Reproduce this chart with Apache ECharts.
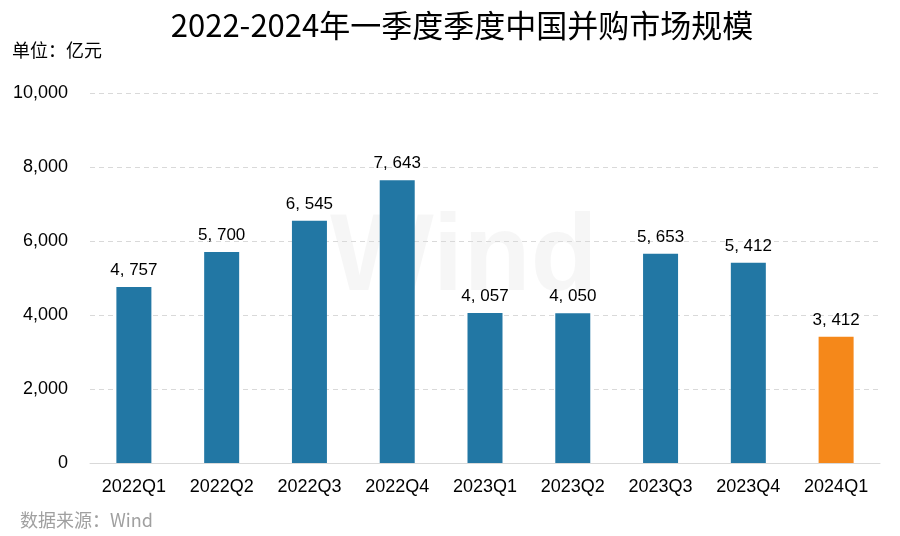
<!DOCTYPE html>
<html><head><meta charset="utf-8">
<script src="https://cdn.jsdelivr.net/npm/echarts@6/dist/echarts.min.js"></script>
<style>html,body{margin:0;padding:0;background:#fff}#c{width:900px;height:536px}</style>
</head><body><div id="c"></div>
<script>
const categories = ['2022Q1','2022Q2','2022Q3','2022Q4','2023Q1','2023Q2','2023Q3','2023Q4','2024Q1'];
const values = [4757, 5700, 6545, 7643, 4057, 4050, 5653, 5412, 3412];
const yTicks = [0, 2000, 4000, 6000, 8000, 10000];
const highlightIndex = 8;

const fmt = v => {
  const s = String(v);
  return s.length > 3 ? s.slice(0, s.length - 3) + ', ' + s.slice(-3) : s;
};
const fmtAxis = v => v.toLocaleString('en-US');

const chart = echarts.init(document.getElementById('c'));
chart.setOption({
  animation: false,
  backgroundColor: '#fff',
  graphic: [
    {type: 'text', x: 462, y: 25, style: {text: '2022-2024年一季度季度中国并购市场规模', font: '31px "Noto Sans CJK SC"', fill: '#000', align: 'center', verticalAlign: 'middle'}},
    {type: 'text', x: 12, y: 50, style: {text: '单位：亿元', font: '18px "Noto Sans CJK SC"', fill: '#000', verticalAlign: 'middle'}},
    {type: 'text', x: 20, y: 520, style: {text: '数据来源：Wind', font: '18px "Noto Sans CJK SC"', fill: '#a0a0a0', verticalAlign: 'middle'}},
    {type: 'text', x: 330, y: 205, z: -1, style: {text: 'Wind', font: 'bold 110px "Liberation Sans"', fill: 'rgba(0,0,0,0.035)'}}
  ],
  grid: {left: 90, right: 20, top: 93, bottom: 73},
  xAxis: {
    type: 'category', data: categories,
    axisLine: {lineStyle: {color: '#d9d9d9', width: 1}},
    axisTick: {show: false},
    axisLabel: {fontFamily: 'Liberation Sans', fontSize: 18, color: '#000', margin: 15}
  },
  yAxis: {
    type: 'value', min: 0, max: 10000, interval: 2000,
    axisLine: {show: false}, axisTick: {show: false},
    splitLine: {lineStyle: {color: '#d9d9d9', type: [5, 4]}},
    axisLabel: {fontFamily: 'Liberation Sans', fontSize: 18, color: '#000', margin: 22,
      formatter: v => yTicks.includes(v) ? fmtAxis(v) : ''}
  },
  series: [{
    type: 'bar', barWidth: 35,
    data: values.map((v, i) => ({value: v, itemStyle: {color: i === highlightIndex ? '#F5881A' : '#2277A4'}})),
    label: {show: true, position: 'top', distance: 8, fontFamily: 'Liberation Sans', fontSize: 17, color: '#000',
      formatter: p => fmt(p.value)}
  }]
});
</script></body></html>
